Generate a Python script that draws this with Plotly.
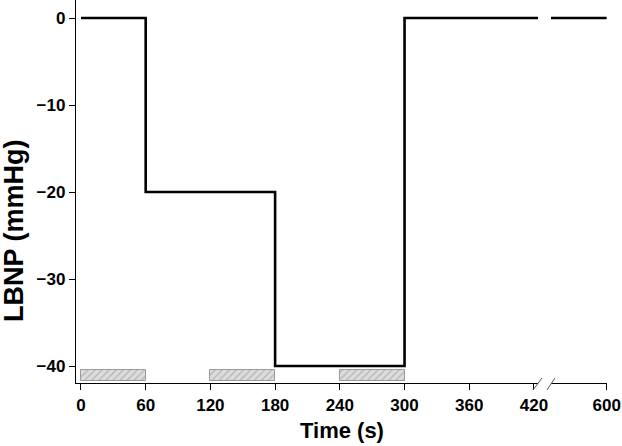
import plotly.graph_objects as go

# ---- data ----
time_s = [0, 60, 180, 300, 600]
lbnp_mmHg = [0, -20, -40, 0, 0]

block_start = [0, 120, 240]
block_duration = [60, 60, 60]

x_ticks_left = [0, 60, 120, 180, 240, 300, 360, 420]
x_ticks_right = [600]
y_ticks = [0, -10, -20, -30, -40]

FONT = "Liberation Sans"

fig = go.Figure()

# hatched blocks
fig.add_trace(go.Bar(
    x=block_start, width=block_duration, offset=0,
    y=[1.3] * len(block_start), base=-41.7,
    marker=dict(color="#d9d9d9",
                line=dict(color="#9a9a9a", width=1),
                pattern=dict(shape="/", fgcolor="#8a8a8a", bgcolor="#dcdcdc",
                             size=5, solidity=0.25)),
    xaxis="x", yaxis="y", showlegend=False, hoverinfo="skip"))

# step line on both segments of the broken axis
for xa in ["x", "x2"]:
    fig.add_trace(go.Scatter(
        x=time_s, y=lbnp_mmHg, mode="lines", line_shape="hv",
        line=dict(color="black", width=2.6),
        xaxis=xa, yaxis="y", showlegend=False))

tickfont = dict(family=FONT, size=17, color="black", weight="bold")
common_x = dict(showline=True, linecolor="black", linewidth=1.3,
                ticks="outside", ticklen=6, tickwidth=1.3, tickcolor="black",
                tickfont=tickfont, showgrid=False, zeroline=False,
                tickmode="array", anchor="y", automargin=False)

fig.update_layout(
    width=622, height=446,
    margin=dict(l=76, r=15, t=0, b=63, autoexpand=False),
    plot_bgcolor="white", paper_bgcolor="white",
    bargap=0,
    xaxis=dict(domain=[0, 0.870], range=[-4.6, 423.7],
               tickvals=x_ticks_left, ticktext=[str(v) for v in x_ticks_left],
               **common_x),
    xaxis2=dict(domain=[0.8945, 1.0], range=[548, 600.3],
                tickvals=x_ticks_right, ticktext=[str(v) for v in x_ticks_right],
                **common_x),
    yaxis=dict(range=[-41.95, 2.07], tickvals=y_ticks,
               showline=True, linecolor="black", linewidth=1.3,
               ticks="outside", ticklen=6, tickwidth=1.3, tickcolor="black",
               tickfont=tickfont, showgrid=False, zeroline=False,
               automargin=False),
)

# axis titles
fig.add_annotation(text="Time (s)", xref="paper", yref="paper",
                   x=0.5, y=-0.125, xanchor="center", yanchor="middle",
                   showarrow=False,
                   font=dict(family=FONT, size=22, color="black", weight="bold"))
fig.add_annotation(text="LBNP (mmHg)", xref="paper", yref="paper",
                   x=-0.1168, y=(383 - 230) / 383, xanchor="center", yanchor="middle",
                   textangle=-90, showarrow=False,
                   font=dict(family=FONT, size=27, color="black", weight="bold"))

# axis break marks
for x0, x1 in [(0.8606, 0.8776), (0.887, 0.902)]:
    fig.add_shape(type="line", xref="paper", yref="paper",
                  x0=x0, x1=x1, y0=-0.0183, y1=0.013,
                  line=dict(color="#555555", width=1))

fig.write_html("out.html", config={"displayModeBar": False},
               post_script="document.body.style.margin='0';document.body.style.overflow='hidden';")
